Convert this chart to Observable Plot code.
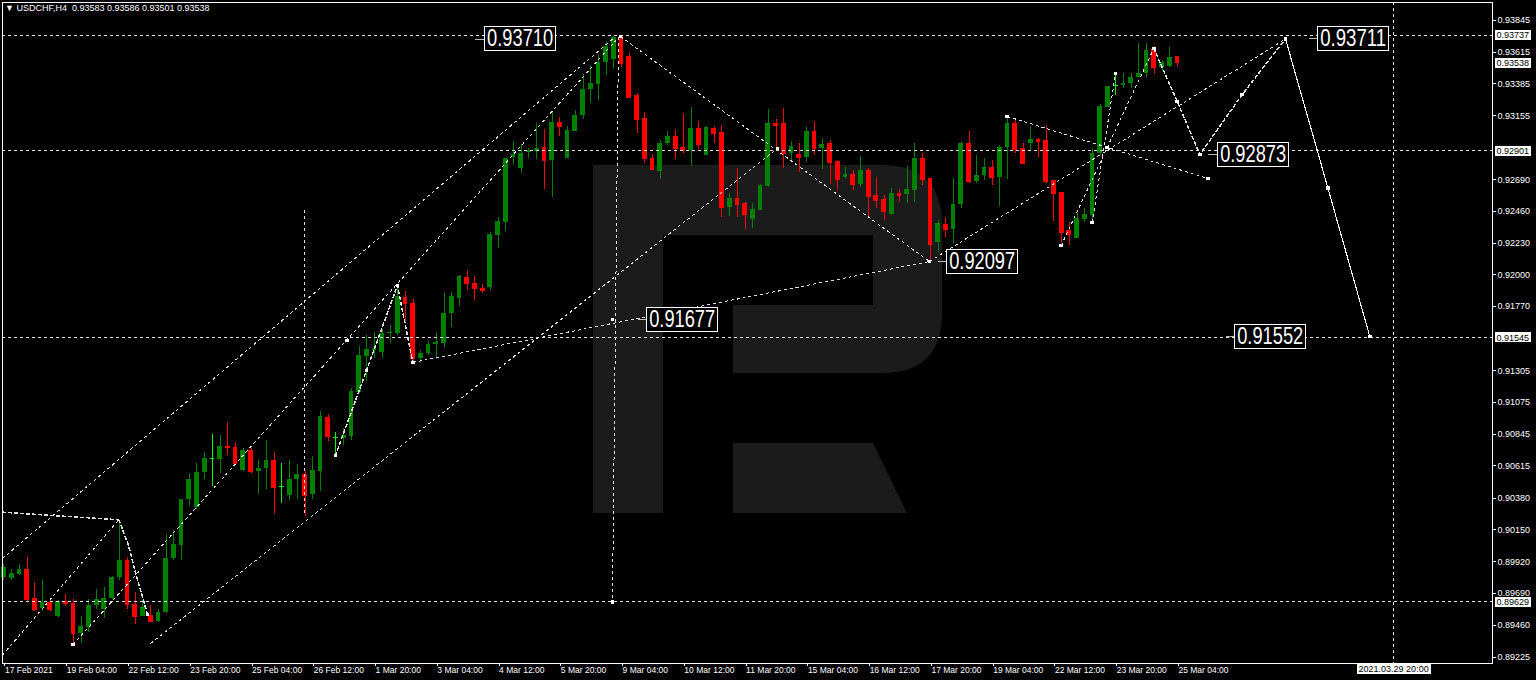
<!DOCTYPE html>
<html><head><meta charset="utf-8">
<script src="https://cdn.jsdelivr.net/npm/d3@7"></script>
<script src="https://cdn.jsdelivr.net/npm/@observablehq/plot@0.6"></script>
<style>
html,body{margin:0;padding:0;background:#000;overflow:hidden}
#chart{position:relative;width:1536px;height:680px}
#hdr{position:absolute;left:5px;top:3px;color:#fff;font:9px 'Liberation Sans',Arial,sans-serif;white-space:pre;z-index:2}
svg{shape-rendering:crispEdges}
svg text{shape-rendering:auto}
</style></head><body><div id="chart"><div id="hdr">▼ USDCHF,H4  0.93583 0.93586 0.93501 0.93538</div></div>
<script>
// ---- candle data (H4 bars, index 0 = 17 Feb 2021 20:00) ----
const opens = [0.89805,0.89798,0.89827,0.89863,0.89652,0.89580,0.89623,0.89522,0.89631,0.89616,
0.89399,0.89442,0.89602,0.89573,0.89652,0.89805,0.89928,0.89609,0.89522,0.89529,
0.89486,0.89551,0.89943,0.90038,0.90371,0.90313,0.90567,0.90668,0.90661,0.90755,
0.90748,0.90582,0.90726,0.90575,0.90596,0.90654,0.90465,0.90400,0.90516,0.90553,
0.90407,0.90575,0.90966,0.90821,0.90813,0.90828,0.91147,0.91408,0.91452,0.91437,
0.91575,0.91575,0.91836,0.91792,0.91394,0.91430,0.91495,0.91502,0.91720,0.91829,
0.91981,0.91937,0.91901,0.91909,0.92286,0.92380,0.92851,0.92771,0.92888,0.92895,
0.92924,0.92830,0.93105,0.92844,0.93040,0.93156,0.93345,0.93381,0.93540,0.93562,
0.93737,0.93584,0.93301,0.93134,0.92844,0.92750,0.92953,0.93004,0.92924,0.92902,
0.93062,0.92866,0.93062,0.93033,0.92489,0.92554,0.92518,0.92402,0.92467,0.92641,
0.93098,0.93098,0.92880,0.92873,0.92851,0.93040,0.92917,0.92953,0.92823,0.92706,
0.92728,0.92656,0.92757,0.92576,0.92547,0.92438,0.92591,0.92583,0.92612,0.92844,
0.92699,0.92235,0.92366,0.92329,0.92511,0.92953,0.92677,0.92721,0.92779,0.92706,
0.92924,0.93098,0.92917,0.92953,0.92982,0.92975,0.92685,0.92598,0.92322,0.92264,
0.92402,0.92431,0.92880,0.93214,0.93374,0.93374,0.93388,0.93432,0.93461,0.93635,
0.93504,0.93511,0.93583];
const highs = [0.89899,0.89863,0.89899,0.89950,0.89761,0.89783,0.89652,0.89638,0.89681,0.89645,
0.89522,0.89645,0.89717,0.89732,0.89812,0.90218,0.89950,0.89696,0.89638,0.89602,
0.89573,0.90117,0.90146,0.90371,0.90560,0.90632,0.90712,0.90842,0.90835,0.90929,
0.90777,0.90741,0.90741,0.90654,0.90799,0.90712,0.90632,0.90654,0.90625,0.90575,
0.90683,0.91009,0.90987,0.90857,0.90886,0.91176,0.91481,0.91560,0.91582,0.91604,
0.91633,0.91923,0.91879,0.91822,0.91452,0.91517,0.91575,0.91865,0.91872,0.91996,
0.92032,0.91988,0.91930,0.92307,0.92416,0.92844,0.92968,0.92946,0.92917,0.93098,
0.93055,0.93178,0.93141,0.93076,0.93192,0.93453,0.93511,0.93598,0.93692,0.93730,
0.93737,0.93606,0.93316,0.93178,0.92873,0.92975,0.93040,0.93047,0.93163,0.93214,
0.93112,0.93076,0.93076,0.93084,0.92591,0.92772,0.92525,0.92518,0.92655,0.93199,
0.93127,0.93207,0.92967,0.92953,0.93069,0.93112,0.92989,0.92975,0.92823,0.92779,
0.92757,0.92859,0.92772,0.92706,0.92576,0.92627,0.92619,0.92786,0.92953,0.92880,
0.92699,0.92395,0.92416,0.92699,0.92960,0.93040,0.92866,0.92844,0.92830,0.92938,
0.93149,0.93134,0.92953,0.93076,0.92989,0.93084,0.92685,0.92598,0.92380,0.92445,
0.92482,0.92917,0.93236,0.93366,0.93461,0.93461,0.93461,0.93678,0.93678,0.93656,
0.93555,0.93649,0.93586];
const lows = [0.89783,0.89783,0.89820,0.89623,0.89558,0.89558,0.89558,0.89515,0.89594,0.89319,
0.89326,0.89406,0.89573,0.89508,0.89645,0.89783,0.89573,0.89464,0.89522,0.89478,
0.89478,0.89544,0.89928,0.89928,0.90320,0.90299,0.90516,0.90465,0.90560,0.90690,
0.90625,0.90575,0.90560,0.90407,0.90444,0.90263,0.90342,0.90364,0.90371,0.90248,
0.90371,0.90429,0.90792,0.90690,0.90763,0.90799,0.91140,0.91227,0.91394,0.91394,
0.91502,0.91560,0.91662,0.91365,0.91357,0.91415,0.91401,0.91473,0.91618,0.91771,
0.91887,0.91814,0.91865,0.91887,0.92191,0.92315,0.92793,0.92735,0.92844,0.92837,
0.92619,0.92561,0.93004,0.92844,0.93040,0.93127,0.93243,0.93265,0.93446,0.93497,
0.93504,0.93287,0.93026,0.92808,0.92757,0.92692,0.92938,0.92837,0.92880,0.92786,
0.92910,0.92866,0.92953,0.92416,0.92424,0.92416,0.92329,0.92337,0.92467,0.92634,
0.92902,0.92772,0.92830,0.92743,0.92815,0.92866,0.92764,0.92656,0.92612,0.92692,
0.92612,0.92634,0.92424,0.92482,0.92395,0.92431,0.92525,0.92518,0.92525,0.92648,
0.92097,0.92170,0.92271,0.92228,0.92482,0.92663,0.92663,0.92685,0.92648,0.92496,
0.92692,0.92880,0.92808,0.92902,0.92851,0.92663,0.92387,0.92228,0.92213,0.92264,
0.92380,0.92380,0.92866,0.93214,0.93301,0.93352,0.93352,0.93432,0.93432,0.93461,
0.93475,0.93504,0.93501];
const closes = [0.89878,0.89834,0.89863,0.89645,0.89573,0.89623,0.89573,0.89631,0.89616,0.89399,
0.89449,0.89602,0.89645,0.89652,0.89805,0.89928,0.89609,0.89522,0.89587,0.89486,
0.89551,0.89943,0.90045,0.90371,0.90516,0.90567,0.90668,0.90668,0.90755,0.90748,
0.90632,0.90726,0.90575,0.90596,0.90654,0.90458,0.90465,0.90516,0.90553,0.90400,
0.90582,0.90973,0.90828,0.90821,0.90835,0.91154,0.91415,0.91459,0.91466,0.91575,
0.91582,0.91843,0.91792,0.91394,0.91430,0.91495,0.91510,0.91720,0.91843,0.91988,
0.91937,0.91901,0.91887,0.92293,0.92387,0.92844,0.92873,0.92880,0.92902,0.92917,
0.92830,0.93105,0.93076,0.93047,0.93156,0.93345,0.93388,0.93540,0.93656,0.93720,
0.93533,0.93287,0.93127,0.92844,0.92764,0.92953,0.93004,0.92917,0.92902,0.93062,
0.92946,0.93069,0.93025,0.92489,0.92554,0.92511,0.92438,0.92474,0.92648,0.93098,
0.93084,0.92880,0.92931,0.92851,0.93040,0.92917,0.92946,0.92815,0.92692,0.92728,
0.92656,0.92757,0.92569,0.92540,0.92460,0.92591,0.92576,0.92619,0.92844,0.92692,
0.92220,0.92373,0.92329,0.92511,0.92953,0.92677,0.92721,0.92779,0.92706,0.92924,
0.93098,0.92910,0.92808,0.92982,0.92967,0.92677,0.92591,0.92307,0.92293,0.92409,
0.92438,0.92880,0.93221,0.93366,0.93374,0.93388,0.93432,0.93461,0.93627,0.93504,
0.93540,0.93577,0.93538];

// ---- axis ticks ----
const xTickBars = [0,8,16,24,32,40,48,56,64,72,80,88,96,104,112,120,128,136,144,152];
const xTickLabels = ["17 Feb 2021","19 Feb 04:00","22 Feb 12:00","23 Feb 20:00","25 Feb 04:00","26 Feb 12:00",
 "1 Mar 20:00","3 Mar 04:00","4 Mar 12:00","5 Mar 20:00","9 Mar 04:00","10 Mar 12:00","11 Mar 20:00",
 "15 Mar 04:00","16 Mar 12:00","17 Mar 20:00","19 Mar 04:00","22 Mar 12:00","23 Mar 20:00","25 Mar 04:00"];
const yTicks = [0.93845,0.93615,0.93385,0.93155,0.92690,0.92460,0.92230,0.92000,0.91770,0.91305,
 0.91075,0.90845,0.90615,0.90380,0.90150,0.89920,0.89690,0.89460,0.89225];
const highlightPrices = [0.93737,0.93538,0.92901,0.91545,0.89629];
const futureBar = 180; const futureLabel = "2021.03.29 20:00";

// ---- drawn objects (bar index, price) ----
const hLines = [0.93737,0.92901,0.91545,0.89629];
const trendSegments = [
 [-0.19,0.89243,14.87,0.90224],
 [-0.19,0.89943,79.08,0.93722],
 [8.96,0.89319,79.6,0.93722],
 [18.98,0.89326,100.19,0.92917],
 [79.86,0.93729,119.88,0.92097],
 [52.95,0.91365,119.88,0.92097],
 [79.6,0.93722,78.82,0.89629],
 [119.88,0.92097,166.0,0.93711],
 [129.95,0.93149,155.95,0.92699],
 [136.94,0.92213,142.9,0.92924],
 [140.96,0.92380,143.98,0.93461],
 [142.9,0.92924,148.94,0.93642],
 [38.92,0.92467,38.92,0.90255]
];
const dottedPolylines = [
 [[-0.19,0.90279],[6.24,0.90255],[14.87,0.90224]],
 [[14.87,0.90224],[16.13,0.90037],[17.03,0.89841],[18.59,0.89537]],
 [[42.94,0.90690],[46.96,0.91307],[50.97,0.91923],[52.95,0.91365]],
 [[148.94,0.93642],[151.97,0.93258],[154.9,0.92873],[160.39,0.93308],[166.0,0.93711]]
];
const solidForecast = [[166.0,0.93711],[171.48,0.92632],[176.92,0.91552]];
const markerPoints = [[8.96,0.89319],[18.59,0.89537],[42.94,0.90690],[44.46,0.91524],[46.96,0.91307],
 [50.97,0.91923],[52.95,0.91365],[79.86,0.93729],[78.82,0.89629],[78.82,0.91677],[100.19,0.92917],
 [119.88,0.92097],[129.95,0.93149],[136.94,0.92213],[140.96,0.92380],[142.9,0.92924],[143.98,0.93461],
 [148.94,0.93642],[151.97,0.93258],[154.9,0.92873],[155.95,0.92699],[160.39,0.93308],[166.0,0.93711],
 [171.48,0.92632],[176.92,0.91552]];
const priceLabels = [
 {i:61.07,p:0.93710,text:"0.93710"},
 {i:82.06,p:0.91677,text:"0.91677"},
 {i:120.92,p:0.92097,text:"0.92097"},
 {i:156.02,p:0.92873,text:"0.92873"},
 {i:168.98,p:0.93711,text:"0.93711"},
 {i:158.23,p:0.91552,text:"0.91552"}
];

// ---- build ----
const candles = opens.map((o,k)=>({i:k,o,h:highs[k],l:lows[k],c:closes[k]}));
const col = d => d.c > d.o ? "#008000" : d.c < d.o ? "#ff0000" : "#00ff00";
const polyRows = dottedPolylines.flatMap((pts,k)=>pts.map(([i,p])=>({k,i,p})));
const solidRows = solidForecast.map(([i,p])=>({i,p}));
const xLabelMap = new Map(xTickBars.map((b,k)=>[b,xTickLabels[k]]));
const DASH = "3,3", LC = "#e0e0e0";

const plot = Plot.plot({
  width:1536,height:680,marginLeft:2,marginRight:44,marginTop:2,marginBottom:17,
  x:{domain:[-0.194,192.81]},
  y:{domain:[0.891815,0.939755]},
  style:{background:"#000",color:"#fff",fontFamily:"'Liberation Sans',Arial,sans-serif",fontSize:"9px"},
  marks:[
    Plot.ruleX(candles,{x:"i",y1:"l",y2:"h",stroke:col,strokeWidth:1}),
    Plot.rect(candles,{x1:d=>d.i-0.31,x2:d=>d.i+0.31,y1:"o",y2:"c",fill:col}),
    Plot.ruleY(candles,{y:"c",x1:d=>d.i-0.31,x2:d=>d.i+0.31,stroke:col}),
    Plot.ruleY(hLines,{stroke:LC,strokeDasharray:DASH}),
    Plot.ruleX([futureBar],{stroke:LC,strokeDasharray:DASH}),
    Plot.link(trendSegments,{x1:d=>d[0],y1:d=>d[1],x2:d=>d[2],y2:d=>d[3],stroke:LC,strokeDasharray:DASH}),
    Plot.line(polyRows,{x:"i",y:"p",z:"k",stroke:LC,strokeDasharray:DASH,curve:"linear"}),
    Plot.line(solidRows,{x:"i",y:"p",stroke:"#ffffff",strokeWidth:1.1}),
    Plot.dot(markerPoints,{x:d=>d[0],y:d=>d[1],symbol:"square",r:2,fill:"#fff",stroke:null}),
    Plot.link(priceLabels,{x1:"i",x2:d=>d.i+1.25,y1:"p",y2:"p",stroke:"#bbbbbb"}),
    Plot.text(priceLabels,{x:d=>d.i+1.25,y:"p",text:"text",textAnchor:"start",dx:2,fontSize:23,fill:"#fff",className:"biglabel"}),
    Plot.frame({stroke:"#fff"}),
    Plot.axisY(yTicks,{anchor:"right",tickSize:3,tickPadding:2,tickFormat:d3.format(".5f"),fontSize:9,label:null}),
    Plot.axisX(xTickBars,{anchor:"bottom",tickSize:3,tickPadding:0,textAnchor:"start",dx:1,tickFormat:d=>xLabelMap.get(d),fontSize:8.5,label:null}),
    Plot.text(highlightPrices,{y:d=>d,frameAnchor:"right",dx:4,textAnchor:"start",text:d=>d.toFixed(5),fill:"#000",fontSize:9,className:"hilabel"}),
    Plot.text([futureBar],{x:d=>d,frameAnchor:"bottom",dy:8,text:()=>futureLabel,fill:"#000",fontSize:9,className:"hilabel"})
  ]
});
document.getElementById("chart").appendChild(plot);

// watermark logo (decoration, pixel space) behind marks
const logoPath = "M593,165H882Q942,165 942,225V313Q942,373 882,373H733V305H873V235H663V513H593Z M733,443H873L907,513H733Z";
d3.select(plot).insert("path","g").attr("d",logoPath).attr("fill","#1b1b1b").style("shape-rendering","auto");

// boxes behind label texts
d3.select(plot).selectAll("g.biglabel text").each(function(){
  this.setAttribute("textLength",66);
  this.setAttribute("lengthAdjust","spacingAndGlyphs");
  const bb=this.getBBox();
  const r=document.createElementNS("http://www.w3.org/2000/svg","rect");
  const cy=bb.y+bb.height/2;
  r.setAttribute("x",bb.x-2.5);r.setAttribute("y",cy-11.5);
  r.setAttribute("width",bb.width+5);r.setAttribute("height",24);
  r.setAttribute("fill","#000");r.setAttribute("stroke","#fff");r.setAttribute("stroke-width","1");
  if(this.getAttribute("transform")) r.setAttribute("transform",this.getAttribute("transform"));
  this.parentNode.insertBefore(r,this);
});
d3.select(plot).selectAll("g.hilabel text").each(function(){
  const bb=this.getBBox();
  const r=document.createElementNS("http://www.w3.org/2000/svg","rect");
  r.setAttribute("x",bb.x-2);r.setAttribute("y",bb.y);
  r.setAttribute("width",bb.width+4);r.setAttribute("height",bb.height);
  r.setAttribute("fill","#fff");r.setAttribute("stroke","none");
  if(this.getAttribute("transform")) r.setAttribute("transform",this.getAttribute("transform"));
  this.parentNode.insertBefore(r,this);
});
</script></body></html>
